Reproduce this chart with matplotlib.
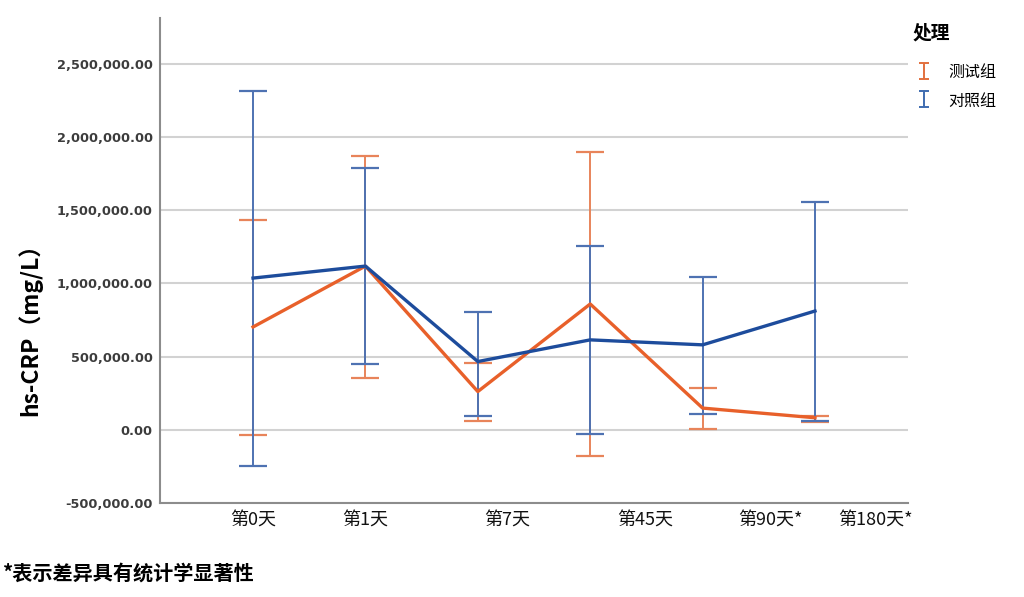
import numpy as np
import matplotlib.pyplot as plt
from matplotlib.ticker import FuncFormatter

plt.rcParams['font.family'] = ['Noto Sans CJK SC', 'DejaVu Sans']

# 时间点
days = ['第0天', '第1天', '第7天', '第45天', '第90天*', '第180天*']
label_pos = [0, 1.0, 2.26, 3.49, 4.6, 5.54]

# 测试组 均值 / 误差上下限
test_mean = [702000, 1118000, 261000, 859000, 148000, 82000]
test_hi = [1432000, 1870000, 457000, 1895000, 286000, 95000]
test_lo = [-34000, 355000, 63000, -177000, 5000, 55000]

# 对照组
ctrl_mean = [1036000, 1118000, 466000, 614000, 580000, 811000]
ctrl_hi = [2311000, 1791000, 807000, 1255000, 1045000, 1557000]
ctrl_lo = [-245000, 450000, 95000, -27000, 107000, 57000]

c_test_line = '#E8602A'
c_test_err = '#E8845A'
c_ctrl_line = '#1D4C9C'
c_ctrl_err = '#4E72B2'

fig = plt.figure(figsize=(10.24, 5.97), dpi=100)
ax = fig.add_axes([0.156, 0.1575, 0.731, 0.8125])

x = np.arange(len(days))

def err(m, lo, hi):
    m = np.array(m); lo = np.array(lo); hi = np.array(hi)
    return [m - lo, hi - m]

ax.errorbar(x, test_mean, yerr=err(test_mean, test_lo, test_hi), fmt='none',
            ecolor=c_test_err, elinewidth=1.4, capsize=10, capthick=1.6, zorder=3)
ax.errorbar(x, ctrl_mean, yerr=err(ctrl_mean, ctrl_lo, ctrl_hi), fmt='none',
            ecolor=c_ctrl_err, elinewidth=1.4, capsize=10, capthick=1.6, zorder=3)
ax.plot(x, test_mean, color=c_test_line, lw=2.4, zorder=4)
ax.plot(x, ctrl_mean, color=c_ctrl_line, lw=2.4, zorder=5)

# legend proxies (narrow caps, nothing drawn)
h1 = ax.errorbar([np.nan], [np.nan], yerr=[[1], [1]], fmt='none', ecolor='#E2703E',
                 elinewidth=1.4, capsize=3.5, capthick=1.4, label='测试组')
h2 = ax.errorbar([np.nan], [np.nan], yerr=[[1], [1]], fmt='none', ecolor='#3F6CB0',
                 elinewidth=1.4, capsize=3.5, capthick=1.4, label='对照组')

ax.set_xlim(-0.83, 5.83)
ax.set_ylim(-500000, 2813000)
ax.set_yticks(np.arange(-500000, 2500001, 500000))
ax.yaxis.set_major_formatter(FuncFormatter(lambda v, p: f'{v:,.2f}'))
ax.set_xticks(label_pos)
ax.set_xticklabels(days, fontsize=13, color='#111111')
for t in ax.get_yticklabels():
    t.set_fontsize(9.3)
    t.set_fontweight('bold')
    t.set_color('#3c3c3c')
    t.set_family(['DejaVu Sans'])
ax.tick_params(length=0, pad=5)
ax.tick_params(axis='x', pad=6)
ax.grid(axis='y', color='#d2d2d2', lw=1.5)
ax.set_axisbelow(True)
for s in ['top', 'right']:
    ax.spines[s].set_visible(False)
for s in ['left', 'bottom']:
    ax.spines[s].set_color('#8c8c8c')
    ax.spines[s].set_linewidth(1.5)

ax.set_ylabel('hs-CRP（mg/L）', fontsize=16.5, fontweight='bold')
ax.yaxis.set_label_coords(-0.157, 0.37)

fig.text(0.891, 0.945, '处理', fontsize=13.5, fontweight='bold', va='center')
leg = fig.legend(handles=[h1, h2], loc='upper left', bbox_to_anchor=(0.892, 0.893),
                 frameon=False, fontsize=11.5, handlelength=1.3,
                 handleheight=1.2, handletextpad=0.9, labelspacing=0.68,
                 borderaxespad=0, borderpad=0)

fig.text(0.003, 0.03, '*表示差异具有统计学显著性', fontsize=14.5, fontweight='bold')

fig.savefig('out.png', dpi=100)
